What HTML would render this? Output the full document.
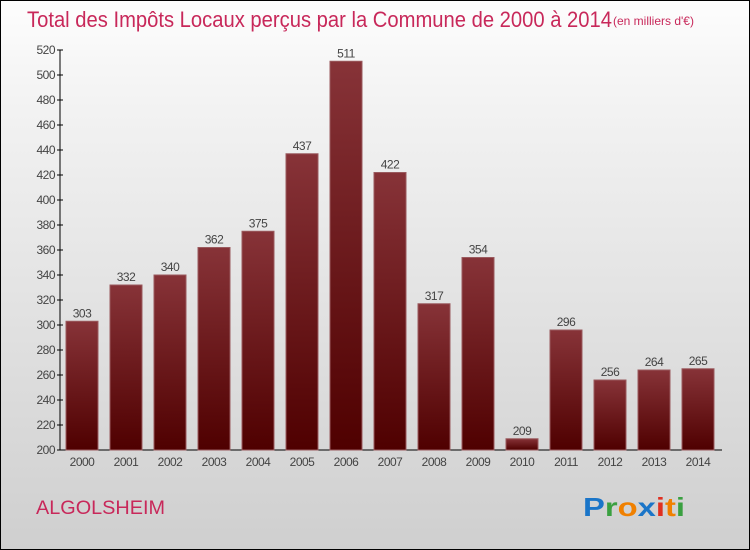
<!DOCTYPE html>
<html><head><meta charset="utf-8"><style>
html,body{margin:0;padding:0}
body{width:750px;height:550px;overflow:hidden;font-family:"Liberation Sans",sans-serif}
#wrap{position:relative;width:748px;height:548px;border:1px solid #000;background:linear-gradient(#fdfdfd,#f2f2f2 20%,#dcdcdc 70%,#cfcfcf)}
</style></head><body>
<div id="wrap">
<svg width="748" height="548" viewBox="1 1 748 548" style="position:absolute;left:0;top:0">
<defs><linearGradient id="bg" x1="0" y1="0" x2="0" y2="1"><stop offset="0" stop-color="#873338"/><stop offset="1" stop-color="#4f0000"/></linearGradient></defs>
<text x="27" y="27" font-size="22" fill="#c8285a" textLength="585" lengthAdjust="spacingAndGlyphs">Total des Impôts Locaux perçus par la Commune de 2000 à 2014</text>
<text x="613" y="25" font-size="12" fill="#c8285a">(en milliers d'€)</text>
<g id="axes"></g><g id="bars"></g>
<text x="36" y="514" font-size="19" fill="#c8285a" textLength="129" lengthAdjust="spacingAndGlyphs">ALGOLSHEIM</text>
<text x="583" y="516" font-size="26" font-weight="bold" textLength="102" lengthAdjust="spacingAndGlyphs"><tspan fill="#1a75c8">P</tspan><tspan fill="#3aa040">r</tspan><tspan fill="#f08000">o</tspan><tspan fill="#1a75c8">x</tspan><tspan fill="#e03020">i</tspan><tspan fill="#f08000">t</tspan><tspan fill="#3aa040">i</tspan></text>
</svg></div>
<script>
const years=["2000","2001","2002","2003","2004","2005","2006","2007","2008","2009","2010","2011","2012","2013","2014"];
const values=[303,332,340,362,375,437,511,422,317,354,209,296,256,264,265];
const yTicks=[200,220,240,260,280,300,320,340,360,380,400,420,440,460,480,500,520];
const NS="http://www.w3.org/2000/svg";
const y0=450,scale=1.25,ymin=200,x0=82,step=44,bw=32;
const Y=v=>y0-(v-ymin)*scale, X=i=>x0+i*step;
function mk(t,a,p){const e=document.createElementNS(NS,t);for(const k in a)e.setAttribute(k,a[k]);p.appendChild(e);return e;}
const ax=document.getElementById('axes'),bs=document.getElementById('bars');
const yl=mk('line',{x1:60,y1:y0,x2:60,y2:Y(520),stroke:'#000'},ax);


const xl=mk('line',{x1:60,y1:y0,x2:722,y2:y0,stroke:'#000'},ax);


yTicks.forEach(v=>{
 mk('line',{x1:57,y1:Y(v),x2:63,y2:Y(v),stroke:'#000'},ax);
 const t=mk('text',{x:55,y:Y(v)+4,'font-size':12,fill:'#444','text-anchor':'end','letter-spacing':'-0.5'},ax);t.textContent=v;
 
 
});
values.forEach((v,i)=>{
 const r=mk('rect',{x:X(i)-bw/2,y:Y(v),width:bw,height:y0-Y(v),fill:'url(#bg)',stroke:'#9a5a5e','stroke-width':1},bs);
 
 
 const t=mk('text',{x:X(i),y:Y(v)-4,'font-size':12,fill:'#444','text-anchor':'middle','letter-spacing':'-0.5'},bs);t.textContent=v;
 
 
 const l=mk('text',{x:X(i),y:466,'font-size':12,fill:'#444','text-anchor':'middle','letter-spacing':'-0.5'},bs);l.textContent=years[i];
 
 
});
</script>
</body></html>
